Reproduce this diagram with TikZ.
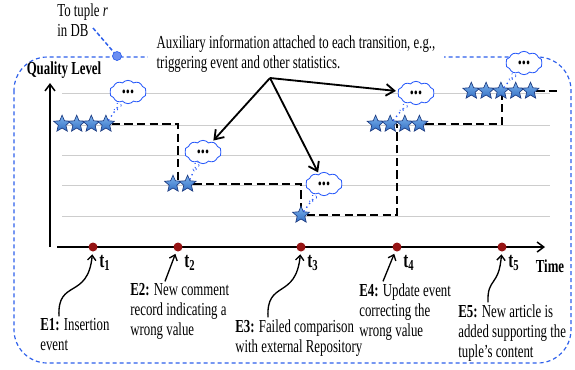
\documentclass[tikz,border=0pt]{standalone}
\usepackage{fontspec}
\setmainfont{Liberation Serif}[FakeStretch=0.70]
\usetikzlibrary{shapes.geometric,shapes.symbols,arrows.meta,backgrounds,positioning}
\definecolor{frameblue}{RGB}{45,95,235}
\definecolor{cloudblue}{RGB}{40,90,250}
\definecolor{starline}{RGB}{30,60,130}
\definecolor{starlight}{RGB}{125,180,238}
\definecolor{stardark}{RGB}{50,110,195}
\definecolor{dotred}{RGB}{150,20,20}
\definecolor{gridgray}{RGB}{205,205,205}
\tikzset{
  every node/.style={font=\fontsize{11}{12}\selectfont},
  qstar/.style={star, star points=5, star point ratio=2.2, minimum size=10.6pt, inner sep=0pt,
    draw=starline, line width=0.4pt, top color=starlight, bottom color=stardark},
  qline/.style={line width=1.3pt, dash pattern=on 5pt off 2.6pt},
  gridline/.style={gridgray, line width=0.6pt},
  frame/.style={frameblue, line width=0.7pt, dash pattern=on 2.4pt off 1.8pt, rounded corners=20pt},
  axis/.style={line width=0.9pt, -{Straight Barb[length=4pt,width=6pt]}},
  evdot/.style={circle, fill=dotred, minimum size=5.4pt, inner sep=0pt},
  tlab/.style={font=\fontsize{13}{14}\selectfont\bfseries, inner sep=0pt},
  evtext/.style={anchor=north west, align=left, inner sep=0pt},
  evarrow/.style={line width=0.8pt, -{Straight Barb[length=3pt,width=5pt]}, shorten >=1.5pt},
  auxarrow/.style={line width=1.1pt, -{Straight Barb[length=5pt,width=7pt]}, shorten >=1pt},
  thought/.style={cloud, cloud puffs=10, cloud puff arc=100, cloud ignores aspect,
    minimum width=22pt, minimum height=14pt, inner sep=0pt, draw=cloudblue, fill=white,
    line width=0.5pt, font=\fontsize{14}{14}\selectfont\bfseries},
  trail/.style={cloudblue, dotted, line width=0.8pt},
  bub/.style={circle, draw=cloudblue, fill=white, line width=0.4pt, inner sep=0pt, minimum size=#1},
  bub/.default=2.2pt,
  dbdot/.style={circle, draw=frameblue, fill=frameblue!70!white, minimum size=5.4pt, inner sep=0pt},
  tupline/.style={frameblue, line width=0.9pt, dash pattern=on 2.4pt off 1.4pt}
}
\begin{document}
\begin{tikzpicture}[x=0.6pt,y=-0.6pt]
  \useasboundingbox (0,0) rectangle (575,369);
  %\draw [help lines] (0,0) grid (575,369);

  % axes
  \coordinate (yorig) at (50,247);
  \coordinate (ytop) at (50,83);
  \coordinate (xorig) at (57,247);
  \coordinate (xend) at (545,247);
  \draw[axis] (yorig) -- (ytop);
  \draw[axis] (xorig) -- (xend);
  \node[font=\fontsize{11}{12}\selectfont\bfseries, inner sep=0pt] (ql) at (64,70) {Quality Level};
  \node[font=\fontsize{11}{12}\selectfont\bfseries, inner sep=0pt] (time) at (550,266) {Time};

  % event times
  \node[evdot] (t1) at (93,247) {};
  \node[evdot] (t2) at (178,247) {};
  \node[evdot] (t3) at (301,247) {};
  \node[evdot] (t4) at (397,247) {};
  \node[evdot] (t5) at (502,247) {};
  \node[tlab] (tl1) at (105,263) {t\textsubscript{1}};
  \node[tlab] (tl2) at (190,263) {t\textsubscript{2}};
  \node[tlab] (tl3) at (313,263) {t\textsubscript{3}};
  \node[tlab] (tl4) at (409,263) {t\textsubscript{4}};
  \node[tlab] (tl5) at (514,263) {t\textsubscript{5}};

  % quality stars
  \foreach \i in {1,...,4} \node[qstar] (s1\i) at ({47.5+14.6*\i},124) {};
  \foreach \i in {1,2} \node[qstar] (s2\i) at ({158.4+14.6*\i},184) {};
  \node[qstar] (s31) at (301,215) {};
  \foreach \i in {1,...,4} \node[qstar] (s4\i) at ({361+14.6*\i},124) {};
  \foreach \i in {1,...,5} \node[qstar] (s5\i) at ({456.5+14.8*\i},91) {};
  \coordinate (qend) at (560,91);

  % attached information
  \node[thought] (c1) at (128,92) {...};
  \node[thought] (c2) at (203,152) {...};
  \node[thought] (c3) at (324,184) {...};
  \node[thought] (c4) at (416,93) {...};
  \node[thought] (c5) at (524,63) {...};
  \draw[trail] (s14) -- node[pos=.6,bub]{} node[pos=.82,bub=3pt]{} (c1);
  \draw[trail] (s22) -- node[pos=.6,bub]{} node[pos=.82,bub=3pt]{} (c2);
  \draw[trail] (s31) -- node[pos=.6,bub]{} node[pos=.82,bub=3pt]{} (c3);
  \draw[trail] (s42) -- node[pos=.6,bub]{} node[pos=.82,bub=3pt]{} (c4);
  \draw[trail] (s53) -- node[pos=.6,bub]{} node[pos=.82,bub=3pt]{} (c5);

  \node[align=left, anchor=north west, fill=white, inner xsep=5pt, inner ysep=0pt] (aux) at (148,35)
    {Auxiliary information attached to each transition, e.g.,\\triggering event and other statistics.};
  \coordinate (hub) at (270,78);
  \draw[auxarrow] (hub) -- (c2);
  \draw[auxarrow] (hub) -- (c3);
  \draw[auxarrow] (hub) -- (c4);

  \node[align=left, anchor=north west, inner sep=0pt] (tuple) at (57,3) {To tuple \textit{r}\\in DB};
  \node[dbdot] (db) at (117,56) {};
  \coordinate (tupfoot) at (93,28);
  \draw[tupline] (tupfoot) -- (db);

  % events
  \node[evtext] (e1) at (40,318) {\textbf{E1:} Insertion\\event};
  \node[evtext] (e2) at (130,283) {\textbf{E2:} New comment\\record indicating a\\wrong value};
  \node[evtext] (e3) at (235,319) {\textbf{E3:} Failed comparison\\with external Repository};
  \node[evtext] (e4) at (359,283) {\textbf{E4:} Update event\\correcting the\\wrong value};
  \node[evtext] (e5) at (458,304) {\textbf{E5:} New article is\\added supporting the\\tuple's content};
  \draw[evarrow] ([xshift=11.4pt,yshift=1pt]e1.north west) .. controls +(-2,-38) and +(-5,53) .. (t1);
  \draw[evarrow] ([xshift=21pt,yshift=1pt]e2.north west) -- (t2);
  \draw[evarrow] ([xshift=19.8pt,yshift=1pt]e3.north west) .. controls +(-2,-38) and +(-5,53) .. (t3);
  \draw[evarrow] ([xshift=14.4pt,yshift=1pt]e4.north west) -- (t4);
  \draw[evarrow] ([xshift=18pt,yshift=1pt]e5.north west) .. controls +(-1,-25) and +(-3,40) .. (t5);

  \begin{scope}[on background layer]
    \draw[frame] (14,57) rectangle (571,363);
    \foreach \y in {93,125,155,185,216} \draw[gridline] (62,\y) -- (550,\y);
    \draw[qline] (s14) -| (t2 |- s22);
    \draw[qline] (s22) -| (t3 |- s31);
    \draw[qline] (s31) -| (t4 |- s42);
    \draw[qline] (s44) -| (t5 |- s53);
    \draw[qline] (s55) -- (qend);
  \end{scope}
\end{tikzpicture}
\end{document}
